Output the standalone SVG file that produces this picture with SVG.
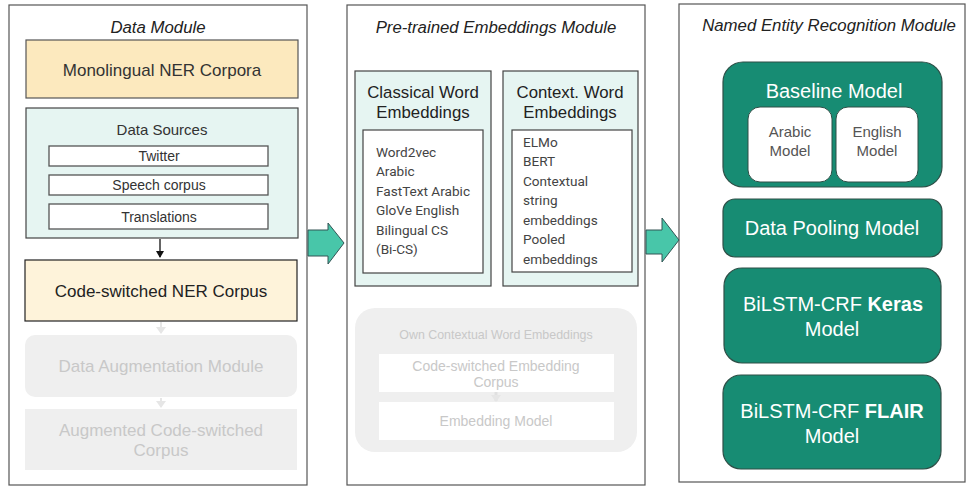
<svg xmlns="http://www.w3.org/2000/svg" width="969" height="487" viewBox="0 0 969 487">
<defs>
<style>
text{font-family:"Liberation Sans",Arial,sans-serif;text-anchor:middle;dominant-baseline:central}
.panel{fill:#fff;stroke:#555;stroke-width:1.2}
.title{font-style:italic;font-size:16.8px;fill:#222}
.ds{fill:#fff;stroke:#555;stroke-width:1.3}
.sm{font-size:14px;fill:#333}
.faded{fill:#efefef;stroke:none}
.ft{fill:#c8c8c8}
.teal{fill:#178c73;stroke:#2f4f47;stroke-width:1.2}
.wt{fill:#fff;font-size:20px}
.list{text-anchor:start;font-size:13.6px;fill:#444;font-family:Roboto,"Liberation Sans",sans-serif}
.big{fill:#48c6a9;stroke:#355;stroke-width:1}
</style>
<marker id="ah" markerWidth="8" markerHeight="8" refX="6" refY="4" orient="auto" markerUnits="userSpaceOnUse"><path d="M0,0 L7,4 L0,8 z" fill="#111"/></marker>
<marker id="ahf" markerWidth="10" markerHeight="10" refX="6" refY="5" orient="auto" markerUnits="userSpaceOnUse"><path d="M0,0 L7,5 L0,10 z" fill="#e6e6e6"/></marker>
</defs>

<g id="data-module">
<rect class="panel" x="9" y="5" width="298" height="480"/>
<text class="title" x="158" y="27">Data Module</text>
</g>
<g id="monolingual">
<rect x="26" y="40" width="272" height="58" fill="#fce9be" stroke="#555" stroke-width="1.2"/>
<text x="162" y="70" font-size="17" fill="#333">Monolingual NER Corpora</text>
</g>
<g id="data-sources">
<rect x="26" y="108" width="272" height="130" fill="#e6f5f2" stroke="#444" stroke-width="1.2"/>
<text x="162" y="129" font-size="15" fill="#333">Data Sources</text>
<rect class="ds" x="49" y="146" width="219" height="20"/>
<text class="sm" x="159" y="156">Twitter</text>
<rect class="ds" x="49" y="175" width="219" height="20"/>
<text class="sm" x="159" y="185">Speech corpus</text>
<rect class="ds" x="49" y="204" width="219" height="25"/>
<text class="sm" x="159" y="217">Translations</text>
</g>
<g id="cs-corpus">
<rect x="25" y="260" width="272" height="61" fill="#fef3da" stroke="#222" stroke-width="1.2"/>
<text x="161" y="291" font-size="17" fill="#222">Code-switched NER Corpus</text>
</g>
<g id="augmentation">
<rect class="faded" x="25" y="335" width="272" height="62" rx="10"/>
<text class="ft" x="161" y="366" font-size="17">Data Augmentation Module</text>
</g>
<g id="augmented">
<rect class="faded" x="25" y="409" width="272" height="61"/>
<text class="ft" x="161" y="430" font-size="17">Augmented Code-switched</text>
<text class="ft" x="161" y="450" font-size="17">Corpus</text>
</g>

<g id="emb-module">
<rect class="panel" x="347" y="5" width="298" height="480"/>
<text class="title" x="496" y="27">Pre-trained Embeddings Module</text>
</g>
<g id="classical">
<rect x="355" y="71" width="136" height="215" fill="#e6f5f2" stroke="#444" stroke-width="1.2"/>
<text x="423" y="92" font-size="16.8" fill="#222">Classical Word</text>
<text x="423" y="112" font-size="16.8" fill="#222">Embeddings</text>
<rect x="363" y="130" width="120" height="143" fill="#fff" stroke="#444" stroke-width="1.2"/>
<text class="list" x="376" y="152">Word2vec</text>
<text class="list" x="376" y="171">Arabic</text>
<text class="list" x="376" y="191">FastText Arabic</text>
<text class="list" x="376" y="210">GloVe English</text>
<text class="list" x="376" y="230">Bilingual CS</text>
<text class="list" x="376" y="249">(Bi-CS)</text>
</g>
<g id="contextual">
<rect x="503" y="71" width="135" height="215" fill="#e6f5f2" stroke="#444" stroke-width="1.2"/>
<text x="570" y="92" font-size="16.8" fill="#222">Context. Word</text>
<text x="570" y="112" font-size="16.8" fill="#222">Embeddings</text>
<rect x="512" y="130" width="120" height="142" fill="#fff" stroke="#444" stroke-width="1.2"/>
<text class="list" x="523" y="142">ELMo</text>
<text class="list" x="523" y="161">BERT</text>
<text class="list" x="523" y="181">Contextual</text>
<text class="list" x="523" y="200">string</text>
<text class="list" x="523" y="220">embeddings</text>
<text class="list" x="523" y="239">Pooled</text>
<text class="list" x="523" y="259">embeddings</text>
</g>
<g id="own-embeddings">
<rect class="faded" x="355" y="308" width="282" height="144" rx="20" fill="#f0f0f0"/>
<text class="ft" x="496" y="335" font-size="12.4">Own Contextual Word Embeddings</text>
<rect x="379" y="354" width="235" height="38" fill="#fff"/>
<text class="ft" x="496" y="366" font-size="14">Code-switched Embedding</text>
<text class="ft" x="496" y="382" font-size="14">Corpus</text>
<rect x="379" y="402" width="235" height="38" fill="#fff"/>
<text class="ft" x="496" y="421" font-size="14">Embedding Model</text>
</g>

<g id="ner-module">
<rect class="panel" x="679" y="4" width="286" height="478"/>
<text class="title" x="829" y="25">Named Entity Recognition Module</text>
</g>
<g id="baseline">
<rect class="teal" x="723" y="62" width="219" height="125" rx="20"/>
<text class="wt" x="834" y="91">Baseline Model</text>
<rect x="748" y="107" width="84" height="75" rx="12" fill="#fff" stroke="#2f4f47" stroke-width="1"/>
<text x="790" y="131" font-size="15" fill="#555">Arabic</text>
<text x="790" y="150" font-size="15" fill="#555">Model</text>
<rect x="836" y="107" width="82" height="75" rx="12" fill="#fff" stroke="#2f4f47" stroke-width="1"/>
<text x="877" y="131" font-size="15" fill="#555">English</text>
<text x="877" y="150" font-size="15" fill="#555">Model</text>
</g>
<g id="pooling">
<rect class="teal" x="723" y="199" width="219" height="58" rx="12"/>
<text class="wt" x="832" y="228">Data Pooling Model</text>
</g>
<g id="keras">
<rect class="teal" x="724" y="268" width="217" height="95" rx="18"/>
<text class="wt" x="833" y="304">BiLSTM-CRF <tspan font-weight="bold">Keras</tspan></text>
<text class="wt" x="832" y="329">Model</text>
</g>
<g id="flair">
<rect class="teal" x="723" y="375" width="218" height="94" rx="18"/>
<text class="wt" x="832" y="411">BiLSTM-CRF <tspan font-weight="bold">FLAIR</tspan></text>
<text class="wt" x="832" y="436">Model</text>
</g>

<g id="connectors">
<line x1="160" y1="239" x2="160" y2="257" stroke="#111" stroke-width="1.3" marker-end="url(#ah)"/>
<line x1="161" y1="322" x2="161" y2="333" stroke="#e6e6e6" stroke-width="2" marker-end="url(#ahf)"/>
<line x1="161" y1="398" x2="161" y2="407" stroke="#e6e6e6" stroke-width="2" marker-end="url(#ahf)"/>
<line x1="496" y1="392" x2="496" y2="401" stroke="#e0e0e0" stroke-width="3" marker-end="url(#ahf)"/>
<path class="big" d="M308,230 L328,230 L328,223 L344,243 L328,264 L328,256 L308,256 Z"/>
<path class="big" d="M646,230 L662,230 L662,218 L679,240 L662,262 L662,254 L646,254 Z"/>
</g>
</svg>
